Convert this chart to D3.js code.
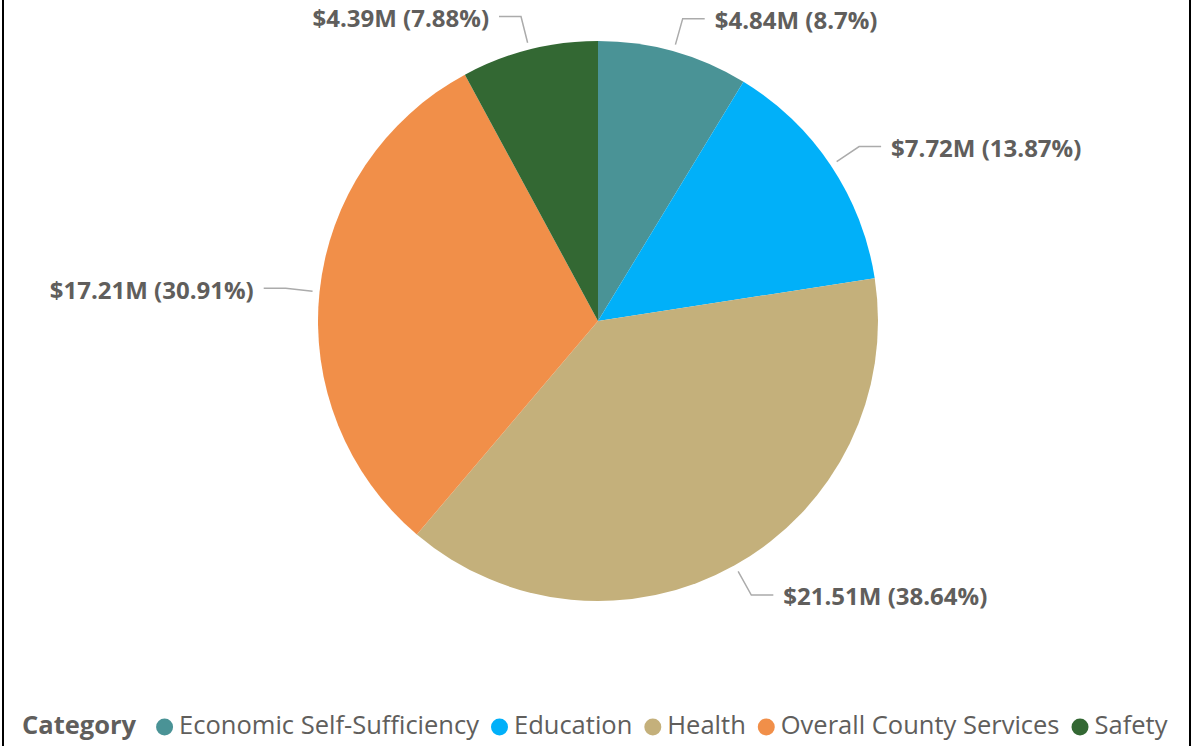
<!DOCTYPE html>
<html><head><meta charset="utf-8">
<script src="https://cdn.jsdelivr.net/npm/d3@7"></script>
<style>
html,body{margin:0;padding:0;background:#fff;}
svg{display:block;}
</style></head>
<body>
<svg id="chart" width="1193" height="746"></svg>
<script>
const categories = ["Economic Self-Sufficiency","Education","Health","Overall County Services","Safety"];
const values = [4.84, 7.72, 21.51, 17.21, 4.39];
const percentLabels = ["8.7%","13.87%","38.64%","30.91%","7.88%"];
const colors = ["#4A9396","#01B0F9","#C4B07B","#F18F49","#336833"];
const legendTitle = "Category";

const W = 1193, H = 746;
const svg = d3.select("#chart");
const font = "'Segoe UI','Open Sans',sans-serif";
const textColor = "#605E5C";

// frame lines
svg.append("line").attr("x1",3).attr("x2",3).attr("y1",0).attr("y2",H).attr("stroke","#000").attr("stroke-width",2);
svg.append("line").attr("x1",1190).attr("x2",1190).attr("y1",0).attr("y2",H).attr("stroke","#000").attr("stroke-width",2);

const cx = 598, cy = 321, R = 280;
const data = categories.map((c,i)=>({cat:c, value:values[i], pct:percentLabels[i], color:colors[i]}));
const pie = d3.pie().value(d=>d.value).sort(null);
const arcs = pie(data);
const arc = d3.arc().innerRadius(0).outerRadius(R);

const g = svg.append("g").attr("transform",`translate(${cx},${cy})`);
g.selectAll("path.slice").data(arcs).join("path")
  .attr("class","slice").attr("d",arc).attr("fill",d=>d.data.color);

const rStart = 287, rElbow = 314, hLen = 22, gap = 10;
arcs.forEach(a=>{
  const m = (a.startAngle+a.endAngle)/2;
  const sx = Math.sin(m)*rStart, sy = -Math.cos(m)*rStart;
  const ex = Math.sin(m)*rElbow, ey = -Math.cos(m)*rElbow;
  const right = Math.sin(m) >= 0;
  const hx = ex + (right ? hLen : -hLen);
  g.append("polyline").attr("points",`${sx},${sy} ${ex},${ey} ${hx},${ey}`)
    .attr("fill","none").attr("stroke","#ABABAB").attr("stroke-width",1.5);
  g.append("text").attr("x", hx + (right?gap:-gap)).attr("y", ey+4)
    .attr("text-anchor", right?"start":"end").attr("dominant-baseline","middle")
    .attr("font-family",font).attr("font-weight","bold").attr("font-size",24)
    .attr("fill",textColor)
    .text(`$${d3.format(".2f")(a.data.value)}M (${a.data.pct})`);
});

// legend
const ly = 727;
const lg = svg.append("g");
const t0 = lg.append("text").attr("x",22).attr("y",ly).attr("dominant-baseline","middle")
  .attr("font-family",font).attr("font-weight","bold").attr("font-size",25.5).attr("fill",textColor).text(legendTitle);
let x = 22 + t0.node().getComputedTextLength() + 20;
data.forEach(d=>{
  lg.append("circle").attr("cx",x+8.5).attr("cy",ly).attr("r",8.5).attr("fill",d.color);
  const t = lg.append("text").attr("x",x+23).attr("y",ly).attr("dominant-baseline","middle")
    .attr("font-family",font).attr("font-size",25.5).attr("fill",textColor).text(d.cat);
  x += 23 + t.node().getComputedTextLength() + 12;
});
</script>
</body></html>
